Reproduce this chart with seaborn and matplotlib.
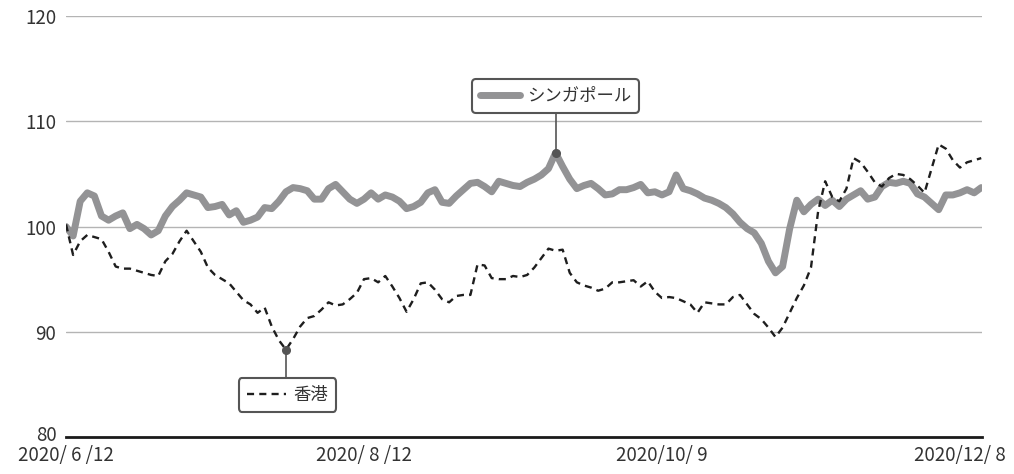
import numpy as np
import pandas as pd
import matplotlib
matplotlib.use("Agg")
import matplotlib.pyplot as plt
import matplotlib.transforms as mtransforms
import seaborn as sns
from matplotlib.lines import Line2D

# --- データ (指数, 2020/6/12 = 100) ---
singapore = [
    100.0, 99.1, 102.4, 103.2, 102.9, 101.0, 100.6, 101.0, 101.3, 99.8,
    100.2, 99.8, 99.2, 99.6, 101.0, 101.9, 102.5, 103.2, 103.0, 102.8,
    101.8, 101.9, 102.1, 101.1, 101.5, 100.4, 100.6, 100.9, 101.8, 101.7,
    102.4, 103.3, 103.7, 103.6, 103.4, 102.6, 102.6, 103.6, 104.0, 103.3,
    102.6, 102.2, 102.6, 103.2, 102.6, 103.0, 102.8, 102.4, 101.7, 101.9,
    102.3, 103.2, 103.5, 102.3, 102.2, 102.9, 103.5, 104.1, 104.2, 103.8,
    103.3, 104.3, 104.1, 103.9, 103.8, 104.2, 104.5, 104.9, 105.5, 107.0,
    105.7, 104.5, 103.6, 103.9, 104.1, 103.6, 103.0, 103.1, 103.5, 103.5,
    103.7, 104.0, 103.2, 103.3, 103.0, 103.3, 104.9, 103.6, 103.4, 103.1,
    102.7, 102.5, 102.2, 101.8, 101.2, 100.4, 99.8, 99.4, 98.4, 96.7,
    95.6, 96.2, 99.8, 102.5, 101.4, 102.1, 102.6, 102.0, 102.5, 101.9,
    102.6, 103.0, 103.4, 102.6, 102.8, 103.8, 104.2, 104.1, 104.3, 104.1,
    103.1, 102.8, 102.2, 101.6, 103.0, 103.0, 103.2, 103.5, 103.2, 103.7,
]
hongkong = [
    100.2, 97.3, 98.6, 99.2, 99.0, 98.8, 97.6, 96.2, 96.0, 96.0,
    95.8, 95.6, 95.4, 95.3, 96.7, 97.4, 98.6, 99.6, 98.6, 97.6,
    96.1, 95.4, 95.0, 94.6, 93.8, 93.0, 92.6, 91.8, 92.3, 90.5,
    89.2, 88.3, 89.3, 90.5, 91.3, 91.5, 92.1, 92.8, 92.5, 92.6,
    93.1, 93.7, 95.0, 95.1, 94.7, 95.3, 94.3, 93.2, 91.9, 93.1,
    94.6, 94.7, 94.0, 93.1, 92.8, 93.4, 93.5, 93.5, 96.4, 96.3,
    95.1, 95.0, 95.0, 95.3, 95.2, 95.4, 96.1, 97.0, 97.9, 97.7,
    97.8, 95.6, 94.7, 94.4, 94.2, 93.9, 94.1, 94.7, 94.7, 94.8,
    94.9, 94.3, 94.8, 93.8, 93.2, 93.3, 93.2, 92.9, 92.6, 91.8,
    92.8, 92.7, 92.6, 92.6, 93.3, 93.5, 92.6, 91.7, 91.2, 90.4,
    89.5, 90.4, 91.8, 93.2, 94.4, 96.1, 101.4, 104.3, 102.8, 102.4,
    103.6, 106.5, 106.1, 105.2, 104.2, 103.8, 104.6, 105.0, 104.9, 104.5,
    103.9, 103.2, 105.5, 107.8, 107.4, 106.3, 105.6, 106.1, 106.3, 106.5,
]
tick_idx = [0, 42, 84, 126]
tick_labels = ["2020/ 6 /12", "2020/ 8 /12", "2020/10/ 9", "2020/12/ 8"]
y_ticks = [80, 90, 100, 110, 120]

df = pd.DataFrame({"idx": np.arange(len(singapore)),
                   "シンガポール": singapore, "香港": hongkong})

# --- スタイル ---
sns.set_theme(style="white")
plt.rcParams["font.family"] = ["Noto Sans CJK JP", "DejaVu Sans"]
TXT = "#333333"
SG_COLOR = "#939395"

fig = plt.figure(figsize=(10.14, 4.74), dpi=100)
ax = fig.add_axes([0.0651, 0.078, 0.9033, 0.8882])

for y in y_ticks[1:]:
    ax.axhline(y, color="#b4b4b4", lw=1.0, zorder=0)

sns.lineplot(data=df, x="idx", y="シンガポール", ax=ax, color=SG_COLOR,
             lw=5.0, solid_joinstyle="round", solid_capstyle="round", zorder=3)
sns.lineplot(data=df, x="idx", y="香港", ax=ax, color="#1e1e1e",
             lw=1.7, linestyle=(0, (3.0, 2.2)), zorder=4)

ax.set_xlim(0, len(singapore) - 0.9)
ax.set_ylim(80, 120)
ax.set_xticks(tick_idx)
ax.set_xticklabels(tick_labels)
ax.set_yticks(y_ticks)
ax.set_xlabel("")
ax.set_ylabel("")

for s in ["top", "right", "left"]:
    ax.spines[s].set_visible(False)
ax.spines["bottom"].set_color("#1a1a1a")
ax.spines["bottom"].set_linewidth(2.0)
ax.tick_params(axis="x", direction="in", length=7, width=1.3, color="#1a1a1a",
               labelsize=13.5, labelcolor=TXT, pad=6)
ax.tick_params(axis="y", length=0, labelsize=13.5, labelcolor=TXT, pad=7)

# 80 のラベルを少し上へ (日付ラベルと重ならないように)
lab80 = ax.get_yticklabels()[0]
lab80.set_transform(lab80.get_transform() +
                    mtransforms.ScaledTranslation(0, 3 / 72, fig.dpi_scale_trans))

# --- 注記 (最高値・最安値) ---
sg_i = int(np.argmax(singapore))
hk_i = int(np.argmin(hongkong))
ax.plot(sg_i, singapore[sg_i], "o", color="#555555", ms=5.5, zorder=6)
ax.plot(hk_i, hongkong[hk_i], "o", color="#555555", ms=5.5, zorder=6)
ax.plot([sg_i, sg_i], [singapore[sg_i], 110.9], color="#555555", lw=1.2, zorder=5)
ax.plot([hk_i, hk_i], [hongkong[hk_i], 85.7], color="#555555", lw=1.2, zorder=5)

sg_handle = Line2D([], [], color=SG_COLOR, lw=5.0, solid_capstyle="round")
hk_handle = Line2D([], [], color="#1e1e1e", lw=1.7, linestyle=(0, (3.0, 2.2)))

leg_kw = dict(loc="center", bbox_transform=ax.transData, fancybox=True,
              framealpha=1, edgecolor="#555555", handlelength=2.3,
              handletextpad=0.4, borderpad=0.45, borderaxespad=0,
              prop={"size": 12.5})
leg1 = ax.legend([sg_handle], ["シンガポール"],
                 bbox_to_anchor=(sg_i, 112.4), **leg_kw)
leg1.get_frame().set_linewidth(1.5)
for t in leg1.get_texts():
    t.set_color(TXT)
ax.add_artist(leg1)
leg2 = ax.legend([hk_handle], ["香港"],
                 bbox_to_anchor=(hk_i + 0.2, 84.0), **leg_kw)
leg2.get_frame().set_linewidth(1.5)
for t in leg2.get_texts():
    t.set_color(TXT)

fig.savefig("out.png", dpi=100)
